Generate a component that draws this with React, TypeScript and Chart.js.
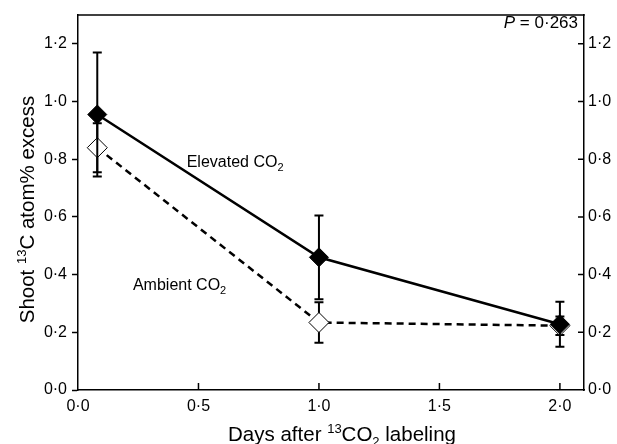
import React, { useEffect, useRef } from 'react';
import { Chart, registerables } from 'chart.js';

Chart.register(...registerables);

// ---- data ----
const days = [0.08, 1.0, 2.0];
const elevated = [0.955, 0.46, 0.228];
const elevatedErr = [0.215, 0.145, 0.078];
const ambient = [0.84, 0.234, 0.223];
const ambientErr = [0.085, 0.07, 0.032];
const xTickValues = [0, 0.5, 1.0, 1.5, 2.0];
const yTickValues = [0, 0.2, 0.4, 0.6, 0.8, 1.0, 1.2];
const pValueLabel = ['P', ' = 0·263'];
const elevatedLabelPos = [0.451, 0.774];
const ambientLabelPos = [0.228, 0.347];

const FONT = '"Liberation Sans", Arial, Helvetica, sans-serif';

const fmt = (v: number) => v.toFixed(1).replace('.', '·');

type Seg = { text: string; size: number; dy?: number; italic?: boolean };

function segWidth(ctx: CanvasRenderingContext2D, segs: Seg[]) {
  let w = 0;
  for (const s of segs) {
    ctx.font = `${s.italic ? 'italic ' : ''}${s.size}px ${FONT}`;
    w += ctx.measureText(s.text).width;
  }
  return w;
}

function drawRich(
  ctx: CanvasRenderingContext2D,
  segs: Seg[],
  x: number,
  y: number,
  align: 'left' | 'center' | 'right'
) {
  const w = segWidth(ctx, segs);
  let cx = align === 'left' ? x : align === 'center' ? x - w / 2 : x - w;
  ctx.textAlign = 'left';
  ctx.textBaseline = 'alphabetic';
  ctx.fillStyle = '#000';
  for (const s of segs) {
    ctx.font = `${s.italic ? 'italic ' : ''}${s.size}px ${FONT}`;
    ctx.fillText(s.text, cx, y + (s.dy || 0));
    cx += ctx.measureText(s.text).width;
  }
}

const errorBarPlugin = {
  id: 'errorBars',
  beforeDatasetDraw(chart: any, args: any) {
    const ds = chart.data.datasets[args.index];
    const errs: number[] = ds.errors;
    if (!errs) return;
    const ctx = chart.ctx as CanvasRenderingContext2D;
    const xs = chart.scales.x;
    const ys = chart.scales.y;
    ctx.save();
    ctx.strokeStyle = '#000';
    ctx.lineWidth = 2;
    ds.data.forEach((pt: any, i: number) => {
      const px = xs.getPixelForValue(pt.x);
      const top = ys.getPixelForValue(pt.y + errs[i]);
      const bot = ys.getPixelForValue(pt.y - errs[i]);
      ctx.beginPath();
      ctx.moveTo(px, top);
      ctx.lineTo(px, bot);
      ctx.moveTo(px - 4.5, top);
      ctx.lineTo(px + 4.5, top);
      ctx.moveTo(px - 4.5, bot);
      ctx.lineTo(px + 4.5, bot);
      ctx.stroke();
    });
    ctx.restore();
  },
};

const decorPlugin = {
  id: 'decor',
  afterDraw(chart: any) {
    const ctx = chart.ctx as CanvasRenderingContext2D;
    const { left, right, top, bottom } = chart.chartArea;
    const xs = chart.scales.x;
    const ys = chart.scales.y;
    ctx.save();
    ctx.strokeStyle = '#000';
    ctx.lineWidth = 1.5;
    // top frame line
    ctx.beginPath();
    ctx.moveTo(left - 0.75, top);
    ctx.lineTo(right + 0.75, top);
    ctx.stroke();
    // inward ticks on bottom axis
    ctx.beginPath();
    for (const v of xTickValues) {
      if (v === 0) continue;
      const px = xs.getPixelForValue(v);
      ctx.moveTo(px, bottom);
      ctx.lineTo(px, bottom - 7);
    }
    // inward ticks on right axis
    for (const v of yTickValues) {
      if (v === 0) continue;
      const py = ys.getPixelForValue(v);
      ctx.moveTo(right, py);
      ctx.lineTo(right - 6, py);
    }
    ctx.stroke();

    // annotations
    const ePx = xs.getPixelForValue(elevatedLabelPos[0]);
    const ePy = ys.getPixelForValue(elevatedLabelPos[1]);
    drawRich(
      ctx,
      [
        { text: 'Elevated CO', size: 16 },
        { text: '2', size: 11, dy: 4 },
      ],
      ePx,
      ePy,
      'left'
    );
    const aPx = xs.getPixelForValue(ambientLabelPos[0]);
    const aPy = ys.getPixelForValue(ambientLabelPos[1]);
    drawRich(
      ctx,
      [
        { text: 'Ambient CO', size: 16 },
        { text: '2', size: 11, dy: 4 },
      ],
      aPx,
      aPy,
      'left'
    );
    // P value
    drawRich(
      ctx,
      [
        { text: pValueLabel[0], size: 17, italic: true },
        { text: pValueLabel[1], size: 17 },
      ],
      right - 6,
      top + 13,
      'right'
    );

    // x axis title
    drawRich(
      ctx,
      [
        { text: 'Days after ', size: 20.5 },
        { text: '13', size: 13, dy: -8 },
        { text: 'CO', size: 20.5 },
        { text: '2', size: 13, dy: 5 },
        { text: ' labeling', size: 20.5 },
      ],
      (left + right) / 2 + 11,
      441,
      'center'
    );

    // y axis title (rotated)
    ctx.save();
    ctx.translate(34, (top + bottom) / 2 + 7);
    ctx.rotate(-Math.PI / 2);
    drawRich(
      ctx,
      [
        { text: 'Shoot ', size: 20.5 },
        { text: '13', size: 13, dy: -8 },
        { text: 'C atom% excess', size: 20.5 },
      ],
      0,
      0,
      'center'
    );
    ctx.restore();
    ctx.restore();
  },
};

export default function App() {
  const ref = useRef<HTMLCanvasElement | null>(null);

  useEffect(() => {
    document.body.style.margin = '0';
    if (!ref.current) return;
    const chart = new Chart(ref.current, {
      type: 'line',
      data: {
        datasets: [
          {
            label: 'Elevated CO2',
            data: days.map((d, i) => ({ x: d, y: elevated[i] })),
            errors: elevatedErr,
            borderColor: '#000',
            borderWidth: 2.5,
            tension: 0,
            pointStyle: 'rectRot',
            pointRadius: 9.5,
            pointBackgroundColor: '#000',
            pointBorderColor: '#000',
            pointBorderWidth: 1,
            clip: false,
          } as any,
          {
            label: 'Ambient CO2',
            data: days.map((d, i) => ({ x: d, y: ambient[i] })),
            errors: ambientErr,
            borderColor: '#000',
            borderWidth: 2.5,
            borderDash: [7, 5],
            tension: 0,
            pointStyle: 'rectRot',
            pointRadius: 10,
            pointBackgroundColor: '#fff',
            pointBorderColor: '#000',
            pointBorderWidth: 1,
            clip: false,
          } as any,
        ],
      },
      options: {
        responsive: false,
        animation: false,
        devicePixelRatio: 1,
        layout: { padding: { top: 15, left: 0, right: 0, bottom: 0 } },
        plugins: {
          legend: { display: false },
          tooltip: { enabled: false },
          title: { display: false },
        },
        font: { family: FONT },
        scales: {
          x: {
            type: 'linear',
            position: 'bottom',
            min: 0,
            max: 2.1,
            afterFit: (s: any) => {
              s.height = 54;
            },
            afterBuildTicks: (s: any) => {
              s.ticks = xTickValues.map((v) => ({ value: v }));
            },
            ticks: {
              font: { family: FONT, size: 16 },
              color: '#000',
              padding: 7,
              callback: (v: any) => fmt(Number(v)),
              maxRotation: 0,
              autoSkip: false,
            },
            grid: { display: false, drawTicks: false },
            border: { display: true, color: '#000', width: 1.5 },
          },
          y: {
            type: 'linear',
            position: 'left',
            min: 0,
            max: 1.3,
            afterFit: (s: any) => {
              s.width = 78;
            },
            afterBuildTicks: (s: any) => {
              s.ticks = yTickValues.map((v) => ({ value: v }));
            },
            ticks: {
              font: { family: FONT, size: 16 },
              color: '#000',
              padding: 5,
              callback: (v: any) => fmt(Number(v)),
              autoSkip: false,
            },
            grid: {
              display: true,
              drawOnChartArea: false,
              drawTicks: true,
              tickLength: 6,
              tickWidth: 1.5,
              tickColor: '#000',
              color: '#000',
            },
            border: { display: true, color: '#000', width: 1.5 },
          },
          y2: {
            type: 'linear',
            position: 'right',
            min: 0,
            max: 1.3,
            afterFit: (s: any) => {
              s.width = 33;
            },
            afterBuildTicks: (s: any) => {
              s.ticks = yTickValues.map((v) => ({ value: v }));
            },
            ticks: {
              font: { family: FONT, size: 16 },
              color: '#000',
              padding: 4,
              callback: (v: any) => fmt(Number(v)),
              autoSkip: false,
            },
            grid: { display: false, drawTicks: false },
            border: { display: true, color: '#000', width: 1.5 },
          },
        },
      } as any,
      plugins: [errorBarPlugin, decorPlugin],
    });
    return () => chart.destroy();
  }, []);

  return (
    <div style={{ width: 617, height: 444 }}>
      <canvas ref={ref} width={617} height={444} style={{ display: 'block' }} />
    </div>
  );
}
